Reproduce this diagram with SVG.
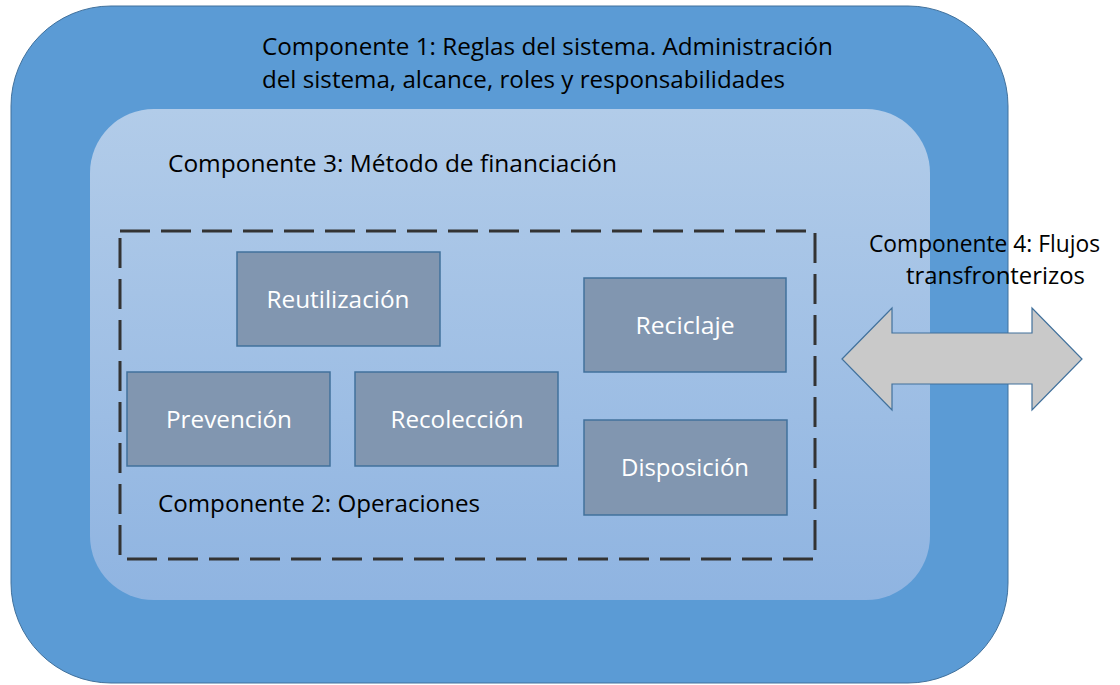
<svg xmlns="http://www.w3.org/2000/svg" width="1120" height="685" viewBox="0 0 1120 685">
<defs>
<linearGradient id="inner" x1="0" y1="0" x2="0" y2="1">
<stop offset="0" stop-color="#b2cce9"/>
<stop offset="1" stop-color="#8fb4e1"/>
</linearGradient>
<style>
.lbl{font-family:"Open Sans","Noto Sans","Liberation Sans",sans-serif;font-size:23px;fill:#000}
.box{fill:#8196b0;stroke:#41719c;stroke-width:1.5}
.bt{font-family:"Open Sans","Noto Sans","Liberation Sans",sans-serif;font-size:23px;fill:#fff;text-anchor:middle}
</style>
</defs>
<rect width="1120" height="685" fill="#fff"/>
<g id="component1">
<rect x="11" y="6" width="997" height="677" rx="100" ry="100" fill="#5b9bd5" stroke="#41719c" stroke-width="1"/>
<text class="lbl" x="262" y="55" textLength="571" lengthAdjust="spacingAndGlyphs">Componente 1: Reglas del sistema. Administración</text>
<text class="lbl" x="262" y="88" textLength="523" lengthAdjust="spacingAndGlyphs">del sistema, alcance, roles y responsabilidades</text>
</g>
<g id="component3">
<rect x="90" y="109" width="840" height="491" rx="64" ry="64" fill="url(#inner)"/>
<text class="lbl" x="168" y="172" textLength="449" lengthAdjust="spacingAndGlyphs">Componente 3: Método de financiación</text>
</g>
<g id="component2">
<rect x="120" y="231" width="695" height="328" fill="none" stroke="#333" stroke-width="3" stroke-dasharray="30,11"/>
<text class="lbl" x="158" y="512" textLength="322" lengthAdjust="spacingAndGlyphs">Componente 2: Operaciones</text>
</g>
<g id="reutilizacion">
<rect class="box" x="237" y="252" width="203" height="94"/>
<text class="bt" x="338" y="308" textLength="143" lengthAdjust="spacingAndGlyphs">Reutilización</text>
</g>
<g id="prevencion">
<rect class="box" x="127" y="372" width="203" height="94"/>
<text class="bt" x="229" y="428" textLength="126" lengthAdjust="spacingAndGlyphs">Prevención</text>
</g>
<g id="recoleccion">
<rect class="box" x="355" y="372" width="203" height="94"/>
<text class="bt" x="457" y="428" textLength="133" lengthAdjust="spacingAndGlyphs">Recolección</text>
</g>
<g id="reciclaje">
<rect class="box" x="584" y="278" width="202" height="94"/>
<text class="bt" x="685" y="334" textLength="99" lengthAdjust="spacingAndGlyphs">Reciclaje</text>
</g>
<g id="disposicion">
<rect class="box" x="584" y="420" width="203" height="95"/>
<text class="bt" x="685" y="476" textLength="128" lengthAdjust="spacingAndGlyphs">Disposición</text>
</g>
<g id="connectors">
<polygon points="842,359 892,308 892,333 1032,333 1032,308 1082,359 1032,410 1032,384 892,384 892,410" fill="#c9c9c9" stroke="#41719c" stroke-width="1.2"/>
</g>
<g id="component4">
<text class="lbl" x="869" y="252" textLength="231" lengthAdjust="spacingAndGlyphs">Componente 4: Flujos</text>
<text class="lbl" x="906" y="284" textLength="179" lengthAdjust="spacingAndGlyphs">transfronterizos</text>
</g>
</svg>
